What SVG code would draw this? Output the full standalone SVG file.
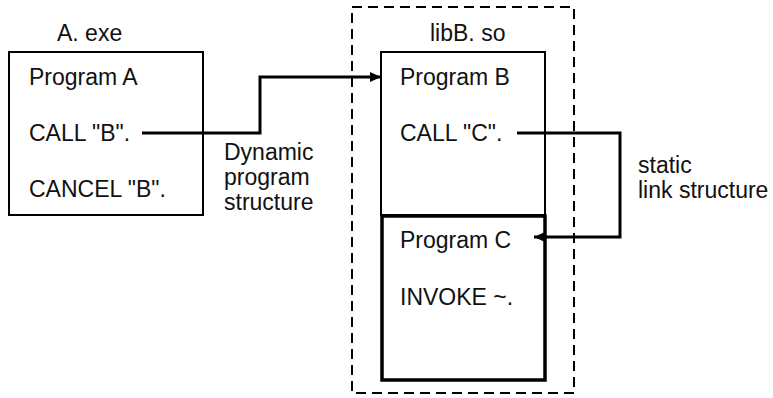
<svg xmlns="http://www.w3.org/2000/svg" width="773" height="398" viewBox="0 0 773 398">
<style>
  text { font-family: "Liberation Sans", Arial, sans-serif; font-size: 23px; fill: #111; }
  .box { fill: #fff; stroke: #000; stroke-width: 2; }
  .thick { fill: #fff; stroke: #000; stroke-width: 3.5; }
  .dash { fill: none; stroke: #000; stroke-width: 2; stroke-dasharray: 10 6; }
  .conn { fill: none; stroke: #000; stroke-width: 3; }
</style>
<defs>
  <marker id="arr" markerWidth="12" markerHeight="12" refX="11" refY="5" orient="auto" markerUnits="userSpaceOnUse">
    <path d="M0,0 L11,5 L0,10 Z" fill="#000"/>
  </marker>
</defs>
<rect width="773" height="398" fill="#fff"/>
<g id="libB">
  <rect class="dash" x="352" y="7" width="222" height="386"/>
  <text x="430" y="41">libB. so</text>
</g>
<g id="exeA">
  <text x="57" y="41">A. exe</text>
  <rect class="box" x="9" y="52" width="194" height="163"/>
  <text x="29" y="85">Program A</text>
  <text x="29" y="141">CALL "B".</text>
  <text x="29" y="197">CANCEL "B".</text>
</g>
<g id="programB">
  <rect class="box" x="381" y="52" width="164" height="163"/>
  <text x="400" y="85">Program B</text>
  <text x="400" y="141">CALL "C".</text>
</g>
<g id="programC">
  <rect class="thick" x="382" y="216" width="163" height="164"/>
  <text x="400" y="248">Program C</text>
  <text x="400" y="305">INVOKE ~.</text>
</g>
<g id="connectors">
  <path class="conn" d="M142,133 H260 V77 H381" marker-end="url(#arr)"/>
  <path class="conn" d="M517,133 H620 V237 H534" marker-end="url(#arr)"/>
</g>
<g id="labels">
  <text x="224" y="160">Dynamic</text>
  <text x="224" y="185">program</text>
  <text x="224" y="210">structure</text>
  <text x="638" y="173">static</text>
  <text x="638" y="198">link structure</text>
</g>
</svg>
